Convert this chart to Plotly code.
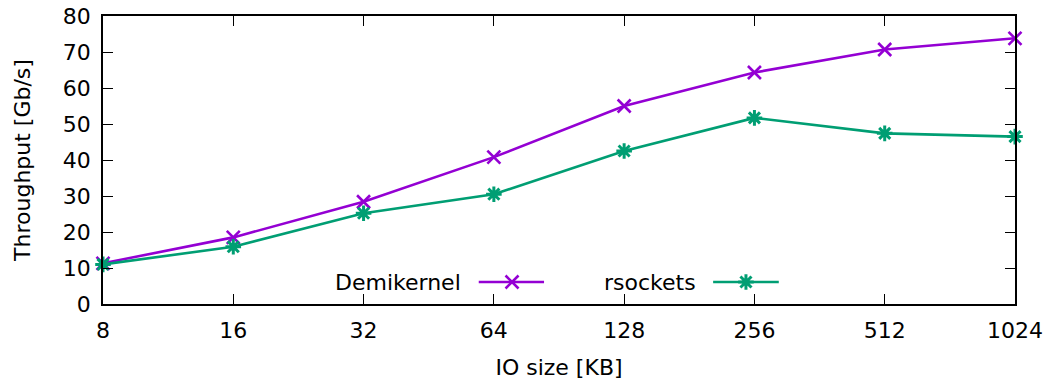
import math
import plotly.graph_objects as go

io_sizes = [8, 16, 32, 64, 128, 256, 512, 1024]
tick_labels = ["8", "16", "32", "64", "128", "256", "512", "1024"]
demikernel = [11.3, 18.5, 28.4, 40.8, 55.0, 64.3, 70.7, 73.8]
rsockets = [11.0, 15.9, 25.2, 30.5, 42.5, 51.7, 47.4, 46.5]

PURPLE = "#9400d3"
GREEN = "#009e73"
FONT = "DejaVu Sans"
FS = 22

fig = go.Figure()
fig.add_trace(go.Scatter(
    x=io_sizes, y=demikernel, mode="lines+markers", name="Demikernel",
    line=dict(color=PURPLE, width=2.6),
    marker=dict(symbol="x-thin-open", size=13, color=PURPLE, line=dict(color=PURPLE, width=2.6)),
    showlegend=False, cliponaxis=False))
fig.add_trace(go.Scatter(
    x=io_sizes, y=rsockets, mode="lines+markers", name="rsockets",
    line=dict(color=GREEN, width=2.6),
    marker=dict(symbol="asterisk-open", size=13, color=GREEN, line=dict(color=GREEN, width=3)),
    showlegend=False, cliponaxis=False))

# manual gnuplot-style legend (text, then line sample with marker)
legend_y = 0.0764
entries = [
    ("Demikernel", PURPLE, "x-thin-open", 0.3947, 0.412, 0.4836, 0.4485, 2.6),
    ("rsockets", GREEN, "asterisk-open", 0.6524, 0.669, 0.741, 0.705, 3),
]
for name, col, sym, tx, x0, x1, xm, mw in entries:
    fig.add_annotation(x=tx, y=legend_y, xref="x2", yref="y2", text=name,
                       showarrow=False, xanchor="right", yanchor="middle",
                       font=dict(family=FONT, size=FS, color="black"))
    fig.add_trace(go.Scatter(x=[x0, x1], y=[legend_y, legend_y], xaxis="x2", yaxis="y2",
                             mode="lines", line=dict(color=col, width=2.6),
                             showlegend=False, hoverinfo="skip"))
    fig.add_trace(go.Scatter(x=[xm], y=[legend_y], xaxis="x2", yaxis="y2",
                             mode="markers",
                             marker=dict(symbol=sym, size=13, color=col, line=dict(color=col, width=mw)),
                             showlegend=False, hoverinfo="skip"))

fig.update_layout(
    width=1054, height=388,
    margin=dict(l=103, r=39, t=16, b=84),
    paper_bgcolor="white", plot_bgcolor="white",
    font=dict(family=FONT, size=FS, color="black"),
    xaxis=dict(
        type="log", range=[math.log10(8) - 1e-9, math.log10(1024) + 1e-9],
        tickvals=io_sizes, ticktext=tick_labels,
        ticks="inside", ticklen=10, tickwidth=1, tickcolor="black",
        showline=True, linecolor="black", linewidth=1.5, mirror="ticks",
        showgrid=False, zeroline=False, automargin=False,
        title=dict(text="IO size [KB]", standoff=17, font=dict(size=FS)),
        ticklabelstandoff=6,
    ),
    yaxis=dict(
        range=[0, 80], dtick=10,
        ticks="inside", ticklen=10, tickwidth=1, tickcolor="black",
        showline=True, linecolor="black", linewidth=1.5, mirror="ticks",
        showgrid=False, zeroline=False, automargin=False,
        title=dict(text="Throughput [Gb/s]", standoff=26, font=dict(size=FS)),
        ticklabelstandoff=6,
    ),
    xaxis2=dict(overlaying="x", range=[0, 1], visible=False, fixedrange=True),
    yaxis2=dict(overlaying="y", range=[0, 1], visible=False, fixedrange=True),
)

fig.write_html("out.html")
